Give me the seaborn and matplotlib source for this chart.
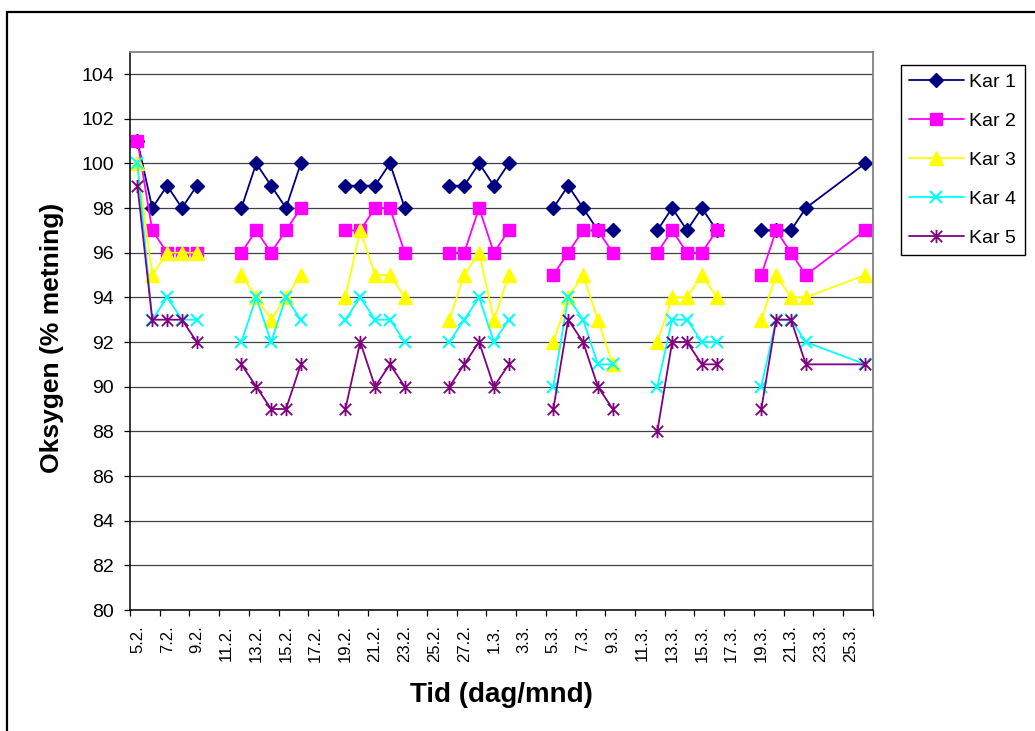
import pandas as pd
import numpy as np
import matplotlib
matplotlib.use("Agg")
import matplotlib.pyplot as plt
import seaborn as sns
from matplotlib.path import Path
from matplotlib.patches import Rectangle

# --------------- data ----------------------------------------
dato = ["5.2.", "6.2.", "7.2.", "8.2.", "9.2.",
        "12.2.", "13.2.", "14.2.", "15.2.", "16.2.",
        "19.2.", "20.2.", "21.2.", "22.2.", "23.2.",
        "26.2.", "27.2.", "28.2.", "1.3.", "2.3.",
        "5.3.", "6.3.", "7.3.", "8.3.", "9.3.",
        "12.3.", "13.3.", "14.3.", "15.3.", "16.3.",
        "19.3.", "20.3.", "21.3.", "22.3.", "26.3."]
gruppe = [1] * 5 + [2] * 5 + [3] * 5 + [4] * 5 + [5] * 5 + [6] * 5 + [7] * 5

kar1 = [101, 98, 99, 98, 99, 98, 100, 99, 98, 100, 99, 99, 99, 100, 98,
        99, 99, 100, 99, 100, 98, 99, 98, 97, 97, 97, 98, 97, 98, 97,
        97, 97, 97, 98, 100]
kar2 = [101, 97, 96, 96, 96, 96, 97, 96, 97, 98, 97, 97, 98, 98, 96,
        96, 96, 98, 96, 97, 95, 96, 97, 97, 96, 96, 97, 96, 96, 97,
        95, 97, 96, 95, 97]
kar3 = [100, 95, 96, 96, 96, 95, 94, 93, 94, 95, 94, 97, 95, 95, 94,
        93, 95, 96, 93, 95, 92, 94, 95, 93, 91, 92, 94, 94, 95, 94,
        93, 95, 94, 94, 95]
kar4 = [100, 93, 94, 93, 93, 92, 94, 92, 94, 93, 93, 94, 93, 93, 92,
        92, 93, 94, 92, 93, 90, 94, 93, 91, 91, 90, 93, 93, 92, 92,
        90, 93, 93, 92, 91]
kar5 = [99, 93, 93, 93, 92, 91, 90, 89, 89, 91, 89, 92, 90, 91, 90,
        90, 91, 92, 90, 91, 89, 93, 92, 90, 89, 88, 92, 92, 91, 91,
        89, 93, 93, 91, 91]

kar_navn = ["Kar 1", "Kar 2", "Kar 3", "Kar 4", "Kar 5"]
tick_labels = ["5.2.", "7.2.", "9.2.", "11.2.", "13.2.", "15.2.", "17.2.",
               "19.2.", "21.2.", "23.2.", "25.2.", "27.2.", "1.3.", "3.3.",
               "5.3.", "7.3.", "9.3.", "11.3.", "13.3.", "15.3.", "17.3.",
               "19.3.", "21.3.", "23.3.", "25.3."]

# day number counted from 5.2. (non-leap year)
datoer = pd.to_datetime([d + "2009" for d in dato], format="%d.%m.%Y")
dag = (datoer - datoer[0]).days

df = pd.DataFrame({"dag": dag, "gruppe": gruppe, "Kar 1": kar1, "Kar 2": kar2,
                   "Kar 3": kar3, "Kar 4": kar4, "Kar 5": kar5})
long_df = df.melt(id_vars=["dag", "gruppe"], var_name="kar", value_name="oksygen")

# excel style star marker: an x with a vertical bar
star = Path([(-1, -1), (1, 1), (-1, 1), (1, -1), (0, -1.15), (0, 1.15)],
            [Path.MOVETO, Path.LINETO] * 3)

farger = ["#000080", "#FF00FF", "#FFFF00", "#00FFFF", "#800080"]
markorer = ["D", "s", "^", "x", star]
storrelse = [6.8, 8.2, 10, 8.5, 9.5]
kantbredde = [1, 1, 1, 1.5, 1.3]

# --------------- plot ---------------------
sns.set_style("white")
plt.rcParams["font.family"] = ["Liberation Sans", "DejaVu Sans"]
plt.rcParams["text.color"] = "black"
plt.rcParams["axes.labelcolor"] = "black"
plt.rcParams["xtick.color"] = "black"
plt.rcParams["ytick.color"] = "black"

fig = plt.figure(figsize=(10.35, 7.31), dpi=100)
ax = fig.add_axes([130 / 1035, 1 - 610 / 731, 742.7 / 1035, 558.3 / 731])

for navn, farge, m, ms, mew in zip(kar_navn, farger, markorer, storrelse, kantbredde):
    sns.lineplot(data=long_df[long_df["kar"] == navn], x="dag", y="oksygen",
                 units="gruppe", estimator=None, color=farge, marker=m,
                 markersize=ms, markeredgecolor=farge, markerfacecolor=farge,
                 markeredgewidth=mew, linewidth=1.3, label=navn, ax=ax)

# axes
ax.set_xlim(-0.5, 49.5)
ax.set_ylim(80, 105)
ax.set_yticks(np.arange(80, 105, 2))
ax.yaxis.grid(True, color="#404040", linewidth=0.9)
ax.set_axisbelow(True)
ax.tick_params(axis="y", direction="out", length=4.5, width=0.9, labelsize=14,
               pad=7, left=True, colors="black")

ax.set_xticks(np.arange(-0.5, 50, 2))
ax.set_xticklabels([])
ax.set_xticks(np.arange(0, 49, 2), minor=True)
ax.set_xticklabels(tick_labels, minor=True, rotation=90, fontsize=12)
ax.tick_params(axis="x", which="major", direction="out", length=4.5, width=0.9,
               bottom=True)
ax.tick_params(axis="x", which="minor", length=0, pad=11)

for side in ["left", "bottom"]:
    ax.spines[side].set_color("black")
    ax.spines[side].set_linewidth(1.1)
for side in ["top", "right"]:
    ax.spines[side].set_color("#808080")
    ax.spines[side].set_linewidth(1.3)

ax.set_xlabel("Tid (dag/mnd)", fontsize=20, fontweight="bold")
ax.xaxis.set_label_coords(0.5, -0.129)
ax.set_ylabel("Oksygen (% metning)", fontsize=19, fontweight="bold")
ax.yaxis.set_label_coords(-0.089, 0.488)

# legend, one entry per tank
handles, labels = ax.get_legend_handles_labels()
unike = dict(zip(labels, handles))
leg = ax.legend(unike.values(), unike.keys(), loc="upper left",
                bbox_to_anchor=(901 / 1035, 1 - 65 / 731),
                bbox_transform=fig.transFigure, borderaxespad=0,
                fontsize=14, frameon=True, fancybox=False, framealpha=1,
                edgecolor="black", handlelength=2.8, handletextpad=0.3,
                labelspacing=1.1, borderpad=0.42)
leg.get_frame().set_linewidth(1.0)

# chart area border
fig.patches.append(Rectangle((6.5 / 1035, -0.1), 1.2, 1.1 - 12 / 731,
                             transform=fig.transFigure, fill=False,
                             edgecolor="black", linewidth=1.6))

fig.savefig("out.png", dpi=100)
